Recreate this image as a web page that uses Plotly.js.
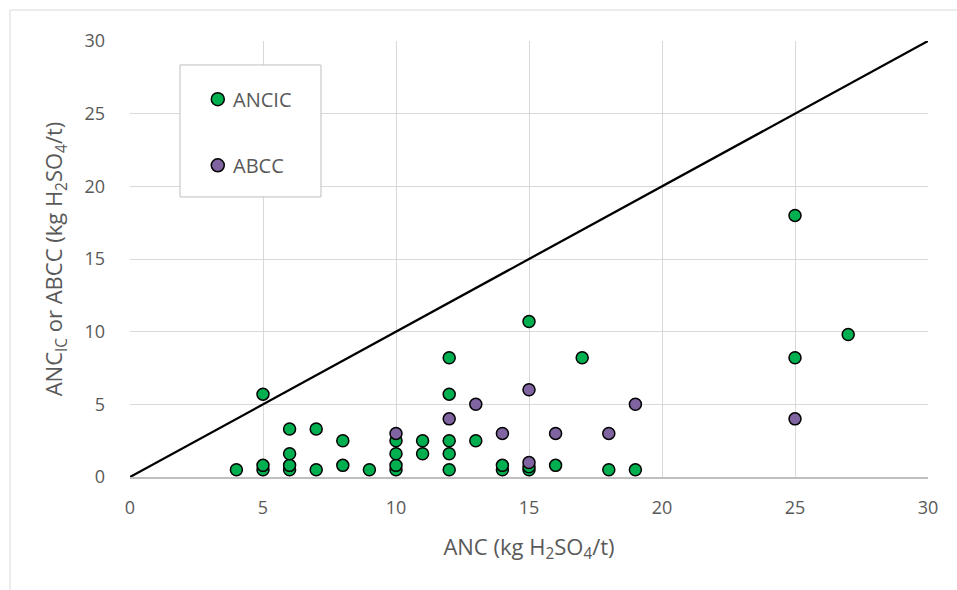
<!DOCTYPE html>
<html>
<head>
<meta charset="utf-8">
<script src="https://cdn.plot.ly/plotly-3.0.1.min.js"></script>
<style>html,body{margin:0;padding:0;background:#fff;}</style>
</head>
<body>
<div id="chart" style="width:957px;height:590px;"></div>
<script>
// ANC_IC series (green)
const ancicX = [4, 5, 5, 5, 6, 6, 6, 6, 7, 7, 8, 8, 9, 10, 10, 10, 10, 11, 11, 12, 12, 12, 12, 12, 13, 14, 14, 15, 15, 15, 16, 17, 18, 19, 25, 25, 27];
const ancicY = [0.5, 0.5, 0.8, 5.7, 0.5, 0.8, 1.6, 3.3, 0.5, 3.3, 0.8, 2.5, 0.5, 0.5, 0.8, 1.6, 2.5, 1.6, 2.5, 0.5, 1.6, 2.5, 5.7, 8.2, 2.5, 0.5, 0.8, 0.5, 0.7, 10.7, 0.8, 8.2, 0.5, 0.5, 8.2, 18, 9.8];
// ABCC series (purple)
const abccX = [10, 12, 13, 14, 15, 15, 16, 18, 19, 25];
const abccY = [3, 4, 5, 3, 6, 1, 3, 3, 5, 4];
// 1:1 line
const lineX = [0, 30];
const lineY = [0, 30];
const tickVals = [0, 5, 10, 15, 20, 25, 30];
const seriesNames = ['ANCIC', 'ABCC'];
const seriesColors = ['#00B050', '#8064A2'];

const fontFam = '"Open Sans", "Noto Sans", sans-serif';
const txtColor = '#595959';

const traces = [
  {x: lineX, y: lineY, mode: 'lines', line: {color: '#000000', width: 2.25}, hoverinfo: 'skip', showlegend: false},
  {x: ancicX, y: ancicY, name: seriesNames[0], mode: 'markers', showlegend: false,
   marker: {size: 12, color: seriesColors[0], line: {color: '#000000', width: 1.5}}},
  {x: abccX, y: abccY, name: seriesNames[1], mode: 'markers', showlegend: false,
   marker: {size: 12, color: seriesColors[1], line: {color: '#000000', width: 1.5}}}
];

// legend drawn manually (box, symbols, labels)
const legX0 = 1.88, legX1 = 7.18, legY0 = 19.27, legY1 = 28.35;
const legSymX = 3.30, legTextX = 3.80, legYs = [26.0, 21.45];

const shapes = [
  {type: 'rect', xref: 'paper', yref: 'paper', x0: -0.1504, x1: 1.2, y0: -0.4, y1: 1.0711,
   line: {color: '#d9d9d9', width: 1}, fillcolor: 'rgba(0,0,0,0)', layer: 'below'},
  {type: 'rect', xref: 'x', yref: 'y', x0: legX0, x1: legX1, y0: legY0, y1: legY1,
   line: {color: '#bfbfbf', width: 1}, fillcolor: '#ffffff', layer: 'between'}
];
const annotations = [];
seriesNames.forEach((n, i) => {
  shapes.push({type: 'circle', xref: 'x', yref: 'y', xsizemode: 'pixel', ysizemode: 'pixel',
    xanchor: legSymX, yanchor: legYs[i], x0: -6.5, x1: 6.5, y0: -6.5, y1: 6.5,
    fillcolor: seriesColors[i], line: {color: '#000000', width: 1.5}, layer: 'above'});
  annotations.push({xref: 'x', yref: 'y', x: legTextX, y: legYs[i], text: n, showarrow: false,
    xanchor: 'left', yanchor: 'middle', font: {family: fontFam, size: 20, color: txtColor}});
});

const layout = {
  width: 957, height: 590,
  margin: {l: 130, r: 29, t: 41, b: 113},
  paper_bgcolor: '#ffffff', plot_bgcolor: '#ffffff',
  showlegend: false,
  font: {family: fontFam, color: txtColor},
  xaxis: {
    range: [0, 30], tickvals: tickVals, ticktext: tickVals.map(String),
    showgrid: true, gridcolor: '#d9d9d9', gridwidth: 1,
    zeroline: false, showline: true, linecolor: '#bfbfbf', linewidth: 1.5,
    ticks: '', ticklabelstandoff: 14,
    tickfont: {family: fontFam, size: 18, color: txtColor},
    title: {text: 'ANC (kg H<sub>2</sub>SO<sub>4</sub>/t)', font: {family: fontFam, size: 22, color: txtColor}, standoff: 21}
  },
  yaxis: {
    range: [0, 30], tickvals: tickVals, ticktext: tickVals.map(String),
    showgrid: true, gridcolor: '#d9d9d9', gridwidth: 1,
    zeroline: false, showline: false,
    ticks: '', ticklabelstandoff: 24,
    tickfont: {family: fontFam, size: 18, color: txtColor},
    title: {text: 'ANC<sub>IC</sub> or ABCC (kg H<sub>2</sub>SO<sub>4</sub>/t)', font: {family: fontFam, size: 22, color: txtColor}, standoff: 15}
  },
  shapes: shapes,
  annotations: annotations
};

Plotly.newPlot('chart', traces, layout, {displayModeBar: false, staticPlot: true});
</script>
</body>
</html>
